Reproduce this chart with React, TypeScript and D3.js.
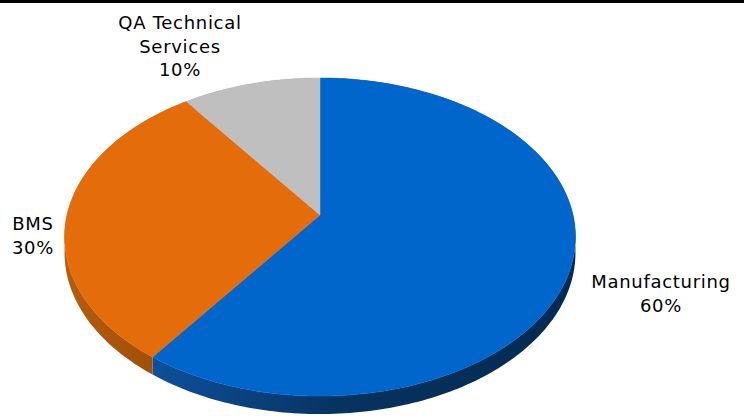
import React from "react";
import * as d3 from "d3";

const categories = ["Manufacturing", "BMS", "QA Technical Services"];
const values = [60, 30, 10];
const labelLines = [["Manufacturing", "60%"], ["BMS", "30%"], ["QA Technical", "Services", "10%"]];
const faceColors = ["#0066CC", "#E46C0A", "#BFBFBF"];

const W = 744, H = 416;
const X0 = 320, Y0 = 215, A = 253, B = 156, K = 0.1384, D0 = 15.5;
// label layout: [x center, first baseline]
const labelPos: [number, number][] = [[661, 288], [33, 230], [180, 29]];
const lineH = 24;

function proj(a: number, dyScale = 0): [number, number] {
  const u = Math.sin(a), v = -Math.cos(a);
  const w = 1 - K * v;
  return [X0 + (A * u) / w, Y0 + (B * v) / w + (dyScale * D0) / w];
}

function arcPts(a0: number, a1: number, dy: number) {
  const n = Math.max(2, Math.ceil(((a1 - a0) * 180) / Math.PI));
  const pts: [number, number][] = [];
  for (let i = 0; i <= n; i++) pts.push(proj(a0 + ((a1 - a0) * i) / n, dy));
  return pts;
}

export default function App() {
  const pie = d3.pie<number>().sort(null).value((d) => d);
  const arcs = pie(values);
  const line = d3.line();
  return (
    <svg width={W} height={H} style={{ position: "absolute", left: 0, top: 0, background: "#fff" }}>
      <defs>
        <linearGradient id="sideBlue" gradientUnits="userSpaceOnUse" x1={150} y1={0} x2={576} y2={0}>
          <stop offset="0" stopColor="#0e509c" />
          <stop offset="0.45" stopColor="#06335f" />
          <stop offset="1" stopColor="#032a52" />
        </linearGradient>
        <linearGradient id="sideOrange" gradientUnits="userSpaceOnUse" x1={64} y1={0} x2={152} y2={0}>
          <stop offset="0" stopColor="#b55d0c" />
          <stop offset="1" stopColor="#a14f08" />
        </linearGradient>
        <linearGradient id="sideGrey" gradientUnits="userSpaceOnUse" x1={64} y1={0} x2={576} y2={0}>
          <stop offset="0" stopColor="#909090" />
          <stop offset="1" stopColor="#808080" />
        </linearGradient>
      </defs>
      <rect x={0} y={0} width={W} height={3} fill="#000" />
      {arcs.map((a, i) => {
        const top = arcPts(a.startAngle, a.endAngle, 0);
        const bot = arcPts(a.startAngle, a.endAngle, 1).reverse();
        const fill = ["url(#sideBlue)", "url(#sideOrange)", "url(#sideGrey)"][i];
        return <path key={"s" + i} d={line([...top, ...bot]) + "Z"} fill={fill} />;
      })}
      {arcs.map((a, i) => {
        const pts = [[X0, Y0] as [number, number], ...arcPts(a.startAngle, a.endAngle, 0)];
        return <path key={"f" + i} d={line(pts) + "Z"} fill={faceColors[i]} stroke={faceColors[i]} strokeWidth={0.5} />;
      })}
      {categories.map((c, i) => (
        <text key={c} textAnchor="middle" fontFamily="DejaVu Sans, sans-serif" fontSize={18} letterSpacing={0.7} fill="#000">
          {labelLines[i].map((t, j) => (
            <tspan key={j} x={labelPos[i][0]} y={labelPos[i][1] + j * (i === 2 ? 23.5 : lineH)}>{t}</tspan>
          ))}
        </text>
      ))}
    </svg>
  );
}
